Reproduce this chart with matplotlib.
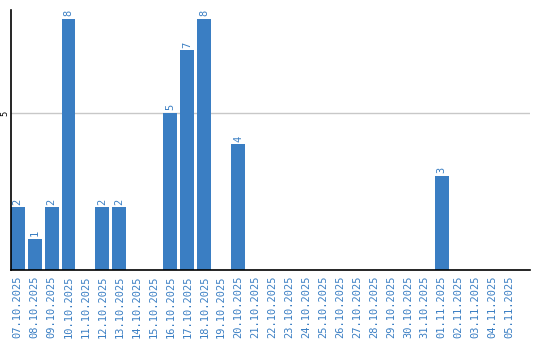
import matplotlib
matplotlib.use("Agg")
import matplotlib.pyplot as plt

dates = ["07.10.2025", "08.10.2025", "09.10.2025", "10.10.2025", "11.10.2025",
         "12.10.2025", "13.10.2025", "14.10.2025", "15.10.2025", "16.10.2025",
         "17.10.2025", "18.10.2025", "19.10.2025", "20.10.2025", "21.10.2025",
         "22.10.2025", "23.10.2025", "24.10.2025", "25.10.2025", "26.10.2025",
         "27.10.2025", "28.10.2025", "29.10.2025", "30.10.2025", "31.10.2025",
         "01.11.2025", "02.11.2025", "03.11.2025", "04.11.2025", "05.11.2025"]
counts = [2, 1, 2, 8, 0, 2, 2, 0, 0, 5, 7, 8, 0, 4, 0,
          0, 0, 0, 0, 0, 0, 0, 0, 0, 0, 3, 0, 0, 0, 0]

blue = "#3a7ec3"

fig = plt.figure(figsize=(5.4, 3.4), dpi=100)
ax = fig.add_axes([10.5 / 540, 70 / 340, 519.5 / 540, 260 / 340])

x = list(range(len(dates)))
ax.bar(x, counts, width=0.82, color=blue, zorder=2)
for xi, v in zip(x, counts):
    if v:
        ax.text(xi, v + 0.08, str(v), rotation=90, ha="center", va="bottom",
                color=blue, fontsize=7.5, family="DejaVu Sans Mono")

ax.set_xlim(-0.42, 30.2)
ax.set_ylim(0, 8.28)
ax.set_yticks([5])
ax.set_yticklabels(["5"], rotation=90, va="center", fontsize=6)
ax.set_xticks(x)
ax.set_xticklabels(dates, rotation=90, color=blue, fontsize=7.5,
                   family="DejaVu Sans Mono")
ax.tick_params(length=0, pad=4)
ax.tick_params(axis="y", pad=1)
ax.yaxis.grid(True, color="#c8c8c8", linewidth=1, zorder=0)
for s in ["top", "right"]:
    ax.spines[s].set_visible(False)
for s in ["left", "bottom"]:
    ax.spines[s].set_linewidth(1.2)
    ax.spines[s].set_color("black")
    ax.spines[s].set_zorder(3)

fig.savefig("out.png", dpi=100)
